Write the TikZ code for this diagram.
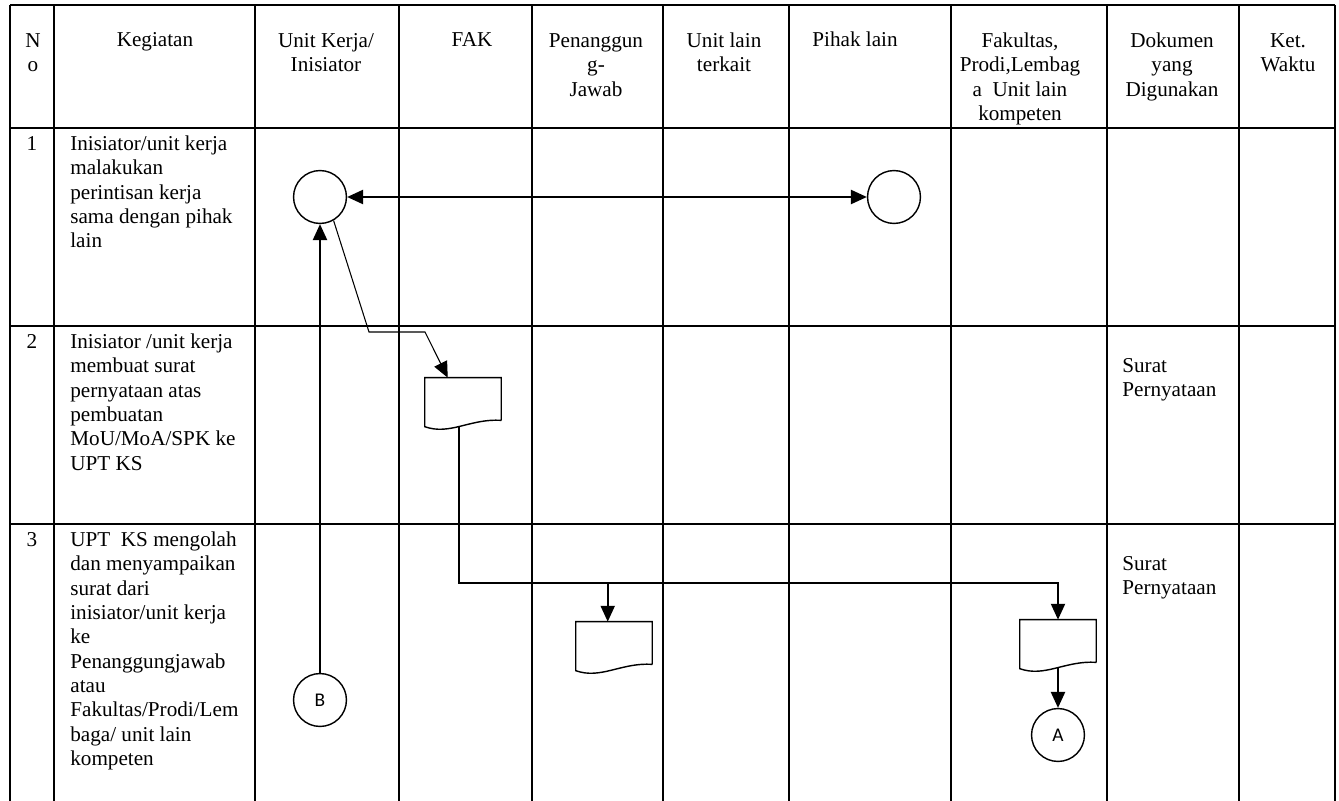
\documentclass[tikz,border=0pt]{standalone}
\usepackage{fontspec}
\setmainfont{Liberation Serif}
\newfontfamily\connfont{Carlito}
\usetikzlibrary{arrows.meta, calc}

\begin{document}
\begin{tikzpicture}[x=0.567pt, y=-0.567pt,
    >={Triangle[length=9pt, width=8pt]},
    tabline/.style={line width=1.1pt},
    flow/.style={line width=1pt},
    thinflow/.style={line width=0.6pt},
    docline/.style={line width=0.8pt},
    cell/.style={inner sep=0pt, font=\fontsize{12}{13.8}\selectfont},
    conn/.style={draw, circle, line width=0.8pt, minimum size=30pt,
        inner sep=0pt, font=\connfont\fontsize{11}{13}\selectfont},
    docnode/.style={minimum width=43pt, minimum height=23.8pt, inner sep=0pt}]

    \useasboundingbox (0,0) rectangle (1339,801);

    % table frame, open at the bottom
    \draw[tabline] (10,5) -- (1335,5);
    \draw[tabline] (10,128) -- (1335,128);
    \draw[tabline] (10,326) -- (1335,326);
    \draw[tabline] (10,524) -- (1335,524);
    \draw[tabline] (10,5) -- (10,801);
    \draw[tabline] (54,5) -- (54,801);
    \draw[tabline] (255,5) -- (255,801);
    \draw[tabline] (399,5) -- (399,801);
    \draw[tabline] (532,5) -- (532,801);
    \draw[tabline] (663,5) -- (663,801);
    \draw[tabline] (789,5) -- (789,801);
    \draw[tabline] (951,5) -- (951,801);
    \draw[tabline] (1107,5) -- (1107,801);
    \draw[tabline] (1239,5) -- (1239,801);
    \draw[tabline] (1335,5) -- (1335,801);

    % header (top of first line = baseline - 17)
    \node[cell, anchor=north, align=center] (HeadNo) at (33,30) {\strut N\\o};
    \node[cell, anchor=base] (HeadKeg) at (155,47) {Kegiatan};
    \node[cell, anchor=north, align=center] (HeadUnit) at (326,30)
        {\strut Unit Kerja/\\Inisiator};
    \node[cell, anchor=base] (HeadFak) at (472,47) {FAK};
    \node[cell, anchor=north, align=center] (HeadPj) at (596,30)
        {\strut Penanggun\\g-\\Jawab};
    \node[cell, anchor=north, align=center] (HeadLain) at (724,30)
        {\strut Unit lain\\terkait};
    \node[cell, anchor=base] (HeadPihak) at (855,47) {Pihak lain};
    \node[cell, anchor=north, align=center] (HeadFakul) at (1020,30)
        {\strut Fakultas,\\Prodi,Lembag\\a~ Unit lain\\kompeten};
    \node[cell, anchor=north, align=center] (HeadDok) at (1172,30)
        {\strut Dokumen\\yang\\Digunakan};
    \node[cell, anchor=north, align=center] (HeadKet) at (1288,30)
        {\strut Ket.\\Waktu};

    % rows
    \node[cell, anchor=base] (Num1) at (32,150) {1};
    \node[cell, anchor=north west, align=left] (Keg1) at (70,133)
        {\strut Inisiator/unit kerja\\malakukan\\perintisan kerja\\sama dengan pihak\\lain};

    \node[cell, anchor=base] (Num2) at (32,348) {2};
    \node[cell, anchor=north west, align=left] (Keg2) at (70,331)
        {\strut Inisiator /unit kerja\\membuat surat\\pernyataan atas\\pembuatan\\MoU/MoA/SPK ke\\UPT KS};
    \node[cell, anchor=north west, align=left] (Dok2) at (1122,355)
        {\strut Surat\\Pernyataan};

    \node[cell, anchor=base] (Num3) at (32,546) {3};
    \node[cell, anchor=north west, align=left] (Keg3) at (70,529)
        {\strut UPT~ KS mengolah\\dan menyampaikan\\surat dari\\inisiator/unit kerja\\ke\\Penanggungjawab\\atau\\Fakultas/Prodi/Lem\\baga/ unit lain\\kompeten};
    \node[cell, anchor=north west, align=left] (Dok3) at (1122,553)
        {\strut Surat\\Pernyataan};

    % flow symbols
    \node[conn] (Circ1) at (320,197) {};
    \node[conn] (Circ2) at (894,197) {};
    \node[conn] (CircB) at (320,700) {B};
    \node[conn] (CircA) at (1058,735) {A};

    \node[docnode] (Doc1) at (463,399) {};
    \draw[docline] (Doc1.south east) -- (Doc1.north east) -- (Doc1.north west)
        -- ++(0,49) .. controls +(25,9) and +(-31,-2) .. (Doc1.south east);

    \node[docnode] (Doc2) at (614,643) {};
    \draw[docline] (Doc2.south east) -- (Doc2.north east) -- (Doc2.north west)
        -- ++(0,49) .. controls +(25,9) and +(-31,-2) .. (Doc2.south east);

    \node[docnode] (Doc3) at (1058,641) {};
    \draw[docline] (Doc3.south east) -- (Doc3.north east) -- (Doc3.north west)
        -- ++(0,49) .. controls +(25,9) and +(-31,-2) .. (Doc3.south east);

    % connectors
    \coordinate (Bend1) at (369,332);
    \coordinate (Bend2) at (425,332);
    \coordinate (Doc1In) at ($(Doc1.north west)+(23,0)$);
    \coordinate (Doc1Out) at ($(Doc1.south)+(-4,7)$);
    \coordinate (Doc2In) at ($(Doc2.north west)+(32,0)$);
    \coordinate (Rail) at ($(Doc3.north)+(0,-37)$);
    \coordinate (Doc3Out) at ($(Doc3.south)+(0,5)$);

    \draw[flow, <->] (Circ1) -- (Circ2);
    \draw[flow, ->] (CircB) -- (Circ1);
    \draw[thinflow, ->] (Circ1.-60) -- (Bend1) -- (Bend2) -- (Doc1In);
    \draw[flow, ->] (Doc1Out) |- (Rail) -- (Doc3.north);
    \draw[flow, ->] (Doc2In |- Rail) -- (Doc2In);
    \draw[flow, ->] (Doc3Out) -- (CircA);

\end{tikzpicture}
\end{document}
